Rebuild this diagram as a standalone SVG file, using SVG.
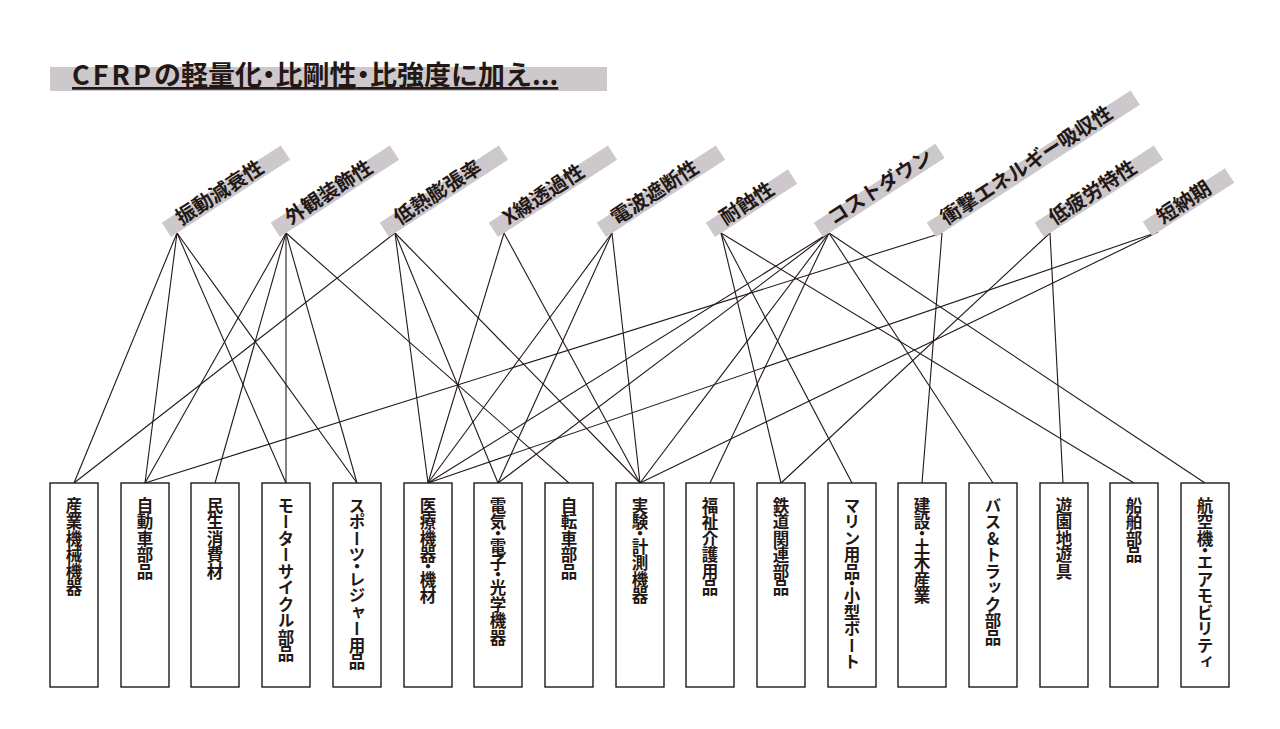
<svg xmlns="http://www.w3.org/2000/svg" width="1280" height="729" viewBox="0 0 1280 729">
<style>
.bar{fill:#cdc8cb}
.lbl{font-family:"Noto Sans CJK JP","Noto Sans",sans-serif;font-weight:700;font-size:20px;fill:#231815}
.box{fill:#fff;stroke:#231815;stroke-width:1.4}
.bt{font-family:"Noto Sans CJK JP","Noto Sans",sans-serif;font-weight:700;font-size:16.5px;fill:#231815;writing-mode:vertical-rl;text-orientation:upright}
.d{font-feature-settings:"vpal" 1}
.h{font-feature-settings:"palt" 1}
#connectors line{stroke:#231815;stroke-width:1.1}
</style>
<rect width="1280" height="729" fill="#fff"/>
<g id="title">
<rect x="50" y="67" width="557" height="24" class="bar"/>
<text x="72" y="85" font-family="'Noto Sans CJK JP','Noto Sans',sans-serif" font-weight="700" font-size="27" fill="#231815" text-decoration="underline"><tspan letter-spacing="3">CFRP</tspan>の軽量化<tspan class="h">・</tspan>比剛性<tspan class="h">・</tspan>比強度に加え...</text>
</g>
<g id="connectors">
<line x1="177" y1="233" x2="74" y2="483"/>
<line x1="177" y1="233" x2="145" y2="483"/>
<line x1="177" y1="233" x2="286" y2="483"/>
<line x1="177" y1="233" x2="357" y2="483"/>
<line x1="286" y1="233" x2="145" y2="483"/>
<line x1="286" y1="233" x2="215" y2="483"/>
<line x1="286" y1="233" x2="286" y2="483"/>
<line x1="286" y1="233" x2="357" y2="483"/>
<line x1="286" y1="233" x2="569" y2="483"/>
<line x1="395" y1="233" x2="74" y2="483"/>
<line x1="395" y1="233" x2="428" y2="483"/>
<line x1="395" y1="233" x2="498" y2="483"/>
<line x1="395" y1="233" x2="640" y2="483"/>
<line x1="504" y1="233" x2="428" y2="483"/>
<line x1="504" y1="233" x2="640" y2="483"/>
<line x1="612" y1="233" x2="428" y2="483"/>
<line x1="612" y1="233" x2="498" y2="483"/>
<line x1="612" y1="233" x2="640" y2="483"/>
<line x1="721" y1="233" x2="781" y2="483"/>
<line x1="721" y1="233" x2="852" y2="483"/>
<line x1="721" y1="233" x2="1134" y2="483"/>
<line x1="829" y1="233" x2="428" y2="483"/>
<line x1="829" y1="233" x2="498" y2="483"/>
<line x1="829" y1="233" x2="640" y2="483"/>
<line x1="829" y1="233" x2="710" y2="483"/>
<line x1="829" y1="233" x2="993" y2="483"/>
<line x1="829" y1="233" x2="1205" y2="483"/>
<line x1="942" y1="233" x2="145" y2="483"/>
<line x1="942" y1="233" x2="922" y2="483"/>
<line x1="1050" y1="233" x2="781" y2="483"/>
<line x1="1050" y1="233" x2="1063" y2="483"/>
<line x1="1158" y1="232" x2="428" y2="483"/>
<line x1="1158" y1="232" x2="640" y2="483"/>
</g>
<g id="label-shindo" transform="translate(171,237) rotate(-33)"><rect class="bar" x="0" y="-17" width="142" height="17"/><text class="lbl" x="15" y="-4">振動減衰性</text></g>
<g id="label-gaikan" transform="translate(280,237) rotate(-33)"><rect class="bar" x="0" y="-17" width="142" height="17"/><text class="lbl" x="15" y="-4">外観装飾性</text></g>
<g id="label-teinetsu" transform="translate(389,237) rotate(-33)"><rect class="bar" x="0" y="-17" width="142" height="17"/><text class="lbl" x="15" y="-4">低熱膨張率</text></g>
<g id="label-xsen" transform="translate(498,237) rotate(-33)"><rect class="bar" x="0" y="-17" width="142" height="17"/><text class="lbl" x="15" y="-4">X線透過性</text></g>
<g id="label-denpa" transform="translate(606,237) rotate(-33)"><rect class="bar" x="0" y="-17" width="142" height="17"/><text class="lbl" x="15" y="-4">電波遮断性</text></g>
<g id="label-taishoku" transform="translate(715,237) rotate(-33)"><rect class="bar" x="0" y="-17" width="98" height="17"/><text class="lbl" x="15" y="-4">耐蝕性</text></g>
<g id="label-cost" transform="translate(823,237) rotate(-33)"><rect class="bar" x="0" y="-17" width="145" height="17"/><text class="lbl" x="15" y="-4">コストダウン</text></g>
<g id="label-shogeki" transform="translate(936,237) rotate(-33)"><rect class="bar" x="0" y="-17" width="243" height="17"/><text class="lbl" x="15" y="-4">衝撃エネルギー吸収性</text></g>
<g id="label-hiro" transform="translate(1044,237) rotate(-33)"><rect class="bar" x="0" y="-17" width="142" height="17"/><text class="lbl" x="15" y="-4">低疲労特性</text></g>
<g id="label-tannoki" transform="translate(1152,236) rotate(-33)"><rect class="bar" x="0" y="-17" width="98" height="17"/><text class="lbl" x="15" y="-4">短納期</text></g>
<g id="box-sangyo"><rect class="box" x="50" y="483" width="48" height="204"/><text class="bt" x="74" y="497">産業機械機器</text></g>
<g id="box-jidosha"><rect class="box" x="121" y="483" width="48" height="204"/><text class="bt" x="145" y="497">自動車部品</text></g>
<g id="box-minsei"><rect class="box" x="191" y="483" width="48" height="204"/><text class="bt" x="215" y="497">民生消費材</text></g>
<g id="box-motor"><rect class="box" x="262" y="483" width="48" height="204"/><text class="bt" x="286" y="497">モーターサイクル部品</text></g>
<g id="box-sports"><rect class="box" x="333" y="483" width="48" height="204"/><text class="bt" x="357" y="497">スポーツ<tspan class="d">・</tspan>レジャー用品</text></g>
<g id="box-iryo"><rect class="box" x="404" y="483" width="48" height="204"/><text class="bt" x="428" y="497">医療機器<tspan class="d">・</tspan>機材</text></g>
<g id="box-denki"><rect class="box" x="474" y="483" width="48" height="204"/><text class="bt" x="498" y="497">電気<tspan class="d">・</tspan>電子<tspan class="d">・</tspan>光学機器</text></g>
<g id="box-jitensha"><rect class="box" x="545" y="483" width="48" height="204"/><text class="bt" x="569" y="497">自転車部品</text></g>
<g id="box-jikken"><rect class="box" x="616" y="483" width="48" height="204"/><text class="bt" x="640" y="497">実験<tspan class="d">・</tspan>計測機器</text></g>
<g id="box-fukushi"><rect class="box" x="686" y="483" width="48" height="204"/><text class="bt" x="710" y="497">福祉介護用品</text></g>
<g id="box-tetsudo"><rect class="box" x="757" y="483" width="48" height="204"/><text class="bt" x="781" y="497">鉄道関連部品</text></g>
<g id="box-marine"><rect class="box" x="828" y="483" width="48" height="204"/><text class="bt" x="852" y="497">マリン用品<tspan class="d">・</tspan>小型ボート</text></g>
<g id="box-kensetsu"><rect class="box" x="898" y="483" width="48" height="204"/><text class="bt" x="922" y="497">建設<tspan class="d">・</tspan>土木産業</text></g>
<g id="box-bus"><rect class="box" x="969" y="483" width="48" height="204"/><text class="bt" x="993" y="497">バス&amp;トラック部品</text></g>
<g id="box-yuenchi"><rect class="box" x="1040" y="483" width="48" height="204"/><text class="bt" x="1064" y="497">遊園地遊具</text></g>
<g id="box-senpaku"><rect class="box" x="1110" y="483" width="48" height="204"/><text class="bt" x="1134" y="497">船舶部品</text></g>
<g id="box-kokuki"><rect class="box" x="1181" y="483" width="48" height="204"/><text class="bt" x="1205" y="497">航空機<tspan class="d">・</tspan>エアモビリティ</text></g>
</svg>
